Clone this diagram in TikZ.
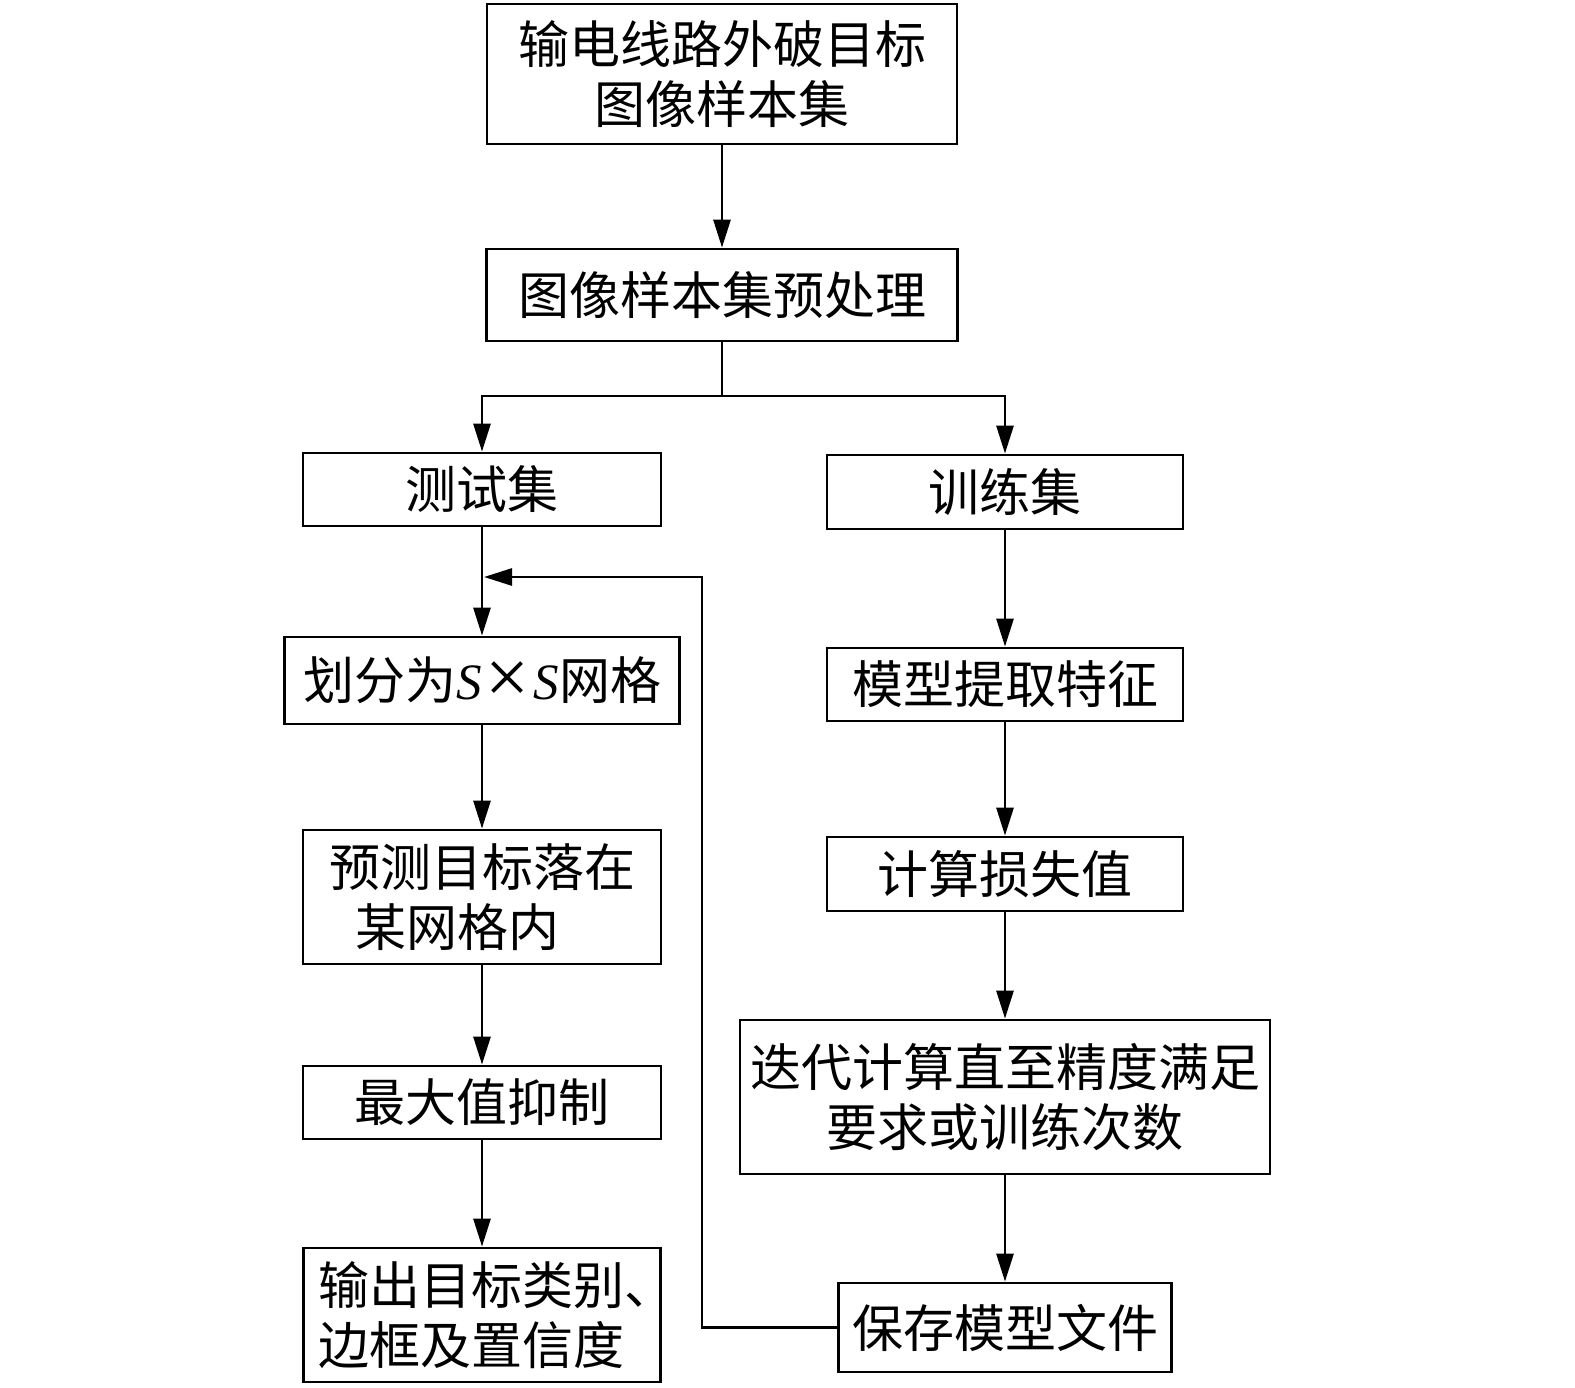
\documentclass[tikz,border=0pt]{standalone}
\usepackage{fontspec}
\newfontfamily\cjk{Noto Sans CJK SC}
\newfontfamily\tms{Liberation Serif}
\usetikzlibrary{arrows.meta}
\tikzset{
  box/.style={draw, line width=2.8pt, inner sep=0pt, align=center,
    font=\cjk\fontsize{51}{60}\selectfont},
  conn/.style={line width=2.8pt},
  arr/.style={conn, -{Triangle[length=28pt,width=17pt]}}
}
\begin{document}
\begin{tikzpicture}[x=1pt,y=-1pt]
\useasboundingbox (0,0) rectangle (1575,1388);
\fill[white] (0,0) rectangle (1575,1388);
% boxes
\node[box, minimum width=470pt, minimum height=140pt] (top) at (722,74) {输电线路外破目标\\图像样本集};
\node[box, minimum width=471pt, minimum height=92pt] (pre) at (722,295) {图像样本集预处理};
\node[box, minimum width=358pt, minimum height=73pt] (test) at (482,489.5) {测试集};
\node[box, minimum width=356pt, minimum height=74pt] (train) at (1005,492) {训练集};
\node[box, minimum width=395pt, minimum height=87pt] (grid) at (482,680.5) {划分为{\tms\itshape S}\makebox[52pt]{\tms\fontsize{78}{60}\selectfont\raisebox{-4pt}{×}}{\tms\itshape S}网格};
\node[box, minimum width=358pt, minimum height=134pt] (pred) at (482,897) {\parbox{306pt}{预测目标落在\\\hspace*{26pt}某网格内}};
\node[box, minimum width=358pt, minimum height=73pt] (nms) at (482,1102.5) {最大值抑制};
\node[box, minimum width=357pt, minimum height=134pt] (out) at (482,1315) {\parbox{357pt}{\hspace*{15pt}输出目标类别、\\\hspace*{15pt}边框及置信度}};
\node[box, minimum width=356pt, minimum height=73pt] (feat) at (1005,684.5) {模型提取特征};
\node[box, minimum width=356pt, minimum height=74pt] (loss) at (1005,874) {计算损失值};
\node[box, minimum width=530pt, minimum height=154pt] (iter) at (1005,1097) {迭代计算直至精度满足\\要求或训练次数};
\node[box, minimum width=333pt, minimum height=89pt] (save) at (1005,1327.5) {保存模型文件};
% connectors
\coordinate (j) at (722,396);
\coordinate (fbc) at (702,577);
\coordinate (fb) at (484,577);
\draw[arr] (top) -- (pre);
\draw[conn] (pre.south) -- (j);
\draw[arr] (j) -| (test.north);
\draw[arr] (j) -| (train.north);
\draw[arr] (test) -- (grid);
\draw[arr] (grid) -- (pred);
\draw[arr] (pred) -- (nms);
\draw[arr] (nms) -- (out);
\draw[arr] (train) -- (feat);
\draw[arr] (feat) -- (loss);
\draw[arr] (loss) -- (iter);
\draw[arr] (iter) -- (save);
\draw[arr] (save.west) -| (fbc) -- (fb);
\end{tikzpicture}
\end{document}
